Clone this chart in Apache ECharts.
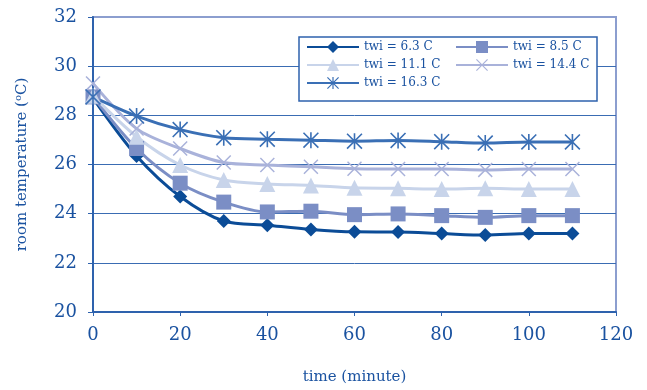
<!DOCTYPE html>
<html>
<head>
<meta charset="utf-8">
<script src="https://cdn.jsdelivr.net/npm/echarts@6/dist/echarts.min.js"></script>
<style>
  html, body { margin: 0; padding: 0; background: #fff; }
  #chart { width: 647px; height: 390px; }
</style>
</head>
<body>
<div id="chart"></div>
<script>
// time in minutes
var times = [0, 10, 20, 30, 40, 50, 60, 70, 80, 90, 100, 110]
var seriesNames = ['twi = 6.3 C', 'twi = 8.5 C', 'twi = 11.1 C', 'twi = 14.4 C', 'twi = 16.3 C']
// room temperature
var twi63 = [28.7, 26.35, 24.7, 23.7, 23.53, 23.36, 23.26, 23.25, 23.19, 23.13, 23.19, 23.19]
var twi85 = [28.75, 26.65, 25.24, 24.47, 24.07, 24.1, 23.96, 23.99, 23.92, 23.85, 23.92, 23.92]
var twi111 = [28.8, 27.13, 25.98, 25.37, 25.21, 25.15, 25.05, 25.03, 25.0, 25.03, 25.0, 25.0]
var twi144 = [29.3, 27.46, 26.65, 26.08, 25.98, 25.91, 25.83, 25.82, 25.82, 25.78, 25.82, 25.82]
var twi163 = [28.75, 27.97, 27.42, 27.09, 27.03, 26.99, 26.95, 26.98, 26.93, 26.87, 26.92, 26.92]

var fontFam = 'DejaVu Serif'
var textColor = '#1a52a0'
var axisColor = '#2e62ad'

var starPath = 'path://M45 0 L55 0 L55 100 L45 100 Z M7 0 L100 93 L93 100 L0 7 Z M93 0 L100 7 L7 100 L0 93 Z'
var crossPath = 'path://M7 0 L100 93 L93 100 L0 7 Z M93 0 L100 7 L7 100 L0 93 Z'

function pairs(vals) {
  return times.map(function (t, i) { return [t, vals[i]] })
}

function makeSeries(name, vals, color, symbol, size) {
  return {
    name: name,
    type: 'line',
    smooth: 0.3,
    data: pairs(vals),
    symbol: symbol,
    symbolSize: size,
    lineStyle: { color: color, width: 3 },
    itemStyle: { color: color },
    animation: false
  }
}

var legendText = { fontFamily: fontFam, fontSize: 12, color: textColor }

var myChart = echarts.init(document.getElementById('chart'))
var option = {
  backgroundColor: '#fff',
  grid: {
    left: 93, right: 31, top: 17, bottom: 77,
    show: true,
    borderColor: '#8c9ecf',
    borderWidth: 2
  },
  graphic: [{
    type: 'rect',
    z: 3,
    shape: { x: 299, y: 37, width: 298, height: 64 },
    style: { fill: '#fff', stroke: axisColor, lineWidth: 1.5 }
  }],
  legend: [{
    orient: 'vertical',
    left: 306, top: 41,
    padding: 0,
    itemWidth: 52, itemHeight: 15, itemGap: 6,
    z: 5,
    data: [seriesNames[0], seriesNames[2], seriesNames[4]],
    textStyle: legendText
  }, {
    orient: 'vertical',
    left: 455, top: 41,
    padding: 0,
    itemWidth: 52, itemHeight: 15, itemGap: 6,
    z: 5,
    data: [seriesNames[1], seriesNames[3]],
    textStyle: legendText
  }],
  xAxis: {
    type: 'value',
    min: 0, max: 120, interval: 20,
    name: 'time (minute)',
    nameLocation: 'middle',
    nameGap: 58,
    nameTextStyle: { fontFamily: fontFam, fontSize: 15, color: textColor },
    axisLine: { show: true, lineStyle: { color: axisColor, width: 2 } },
    axisTick: { show: true, length: 4, lineStyle: { color: axisColor } },
    axisLabel: { fontFamily: fontFam, fontSize: 18, color: textColor, margin: 14 },
    splitLine: { show: false }
  },
  yAxis: {
    type: 'value',
    min: 20, max: 32, interval: 2,
    name: 'room temperature ({sup|o}C)',
    nameLocation: 'middle',
    nameGap: 62,
    nameTextStyle: {
      fontFamily: fontFam, fontSize: 15, color: textColor,
      rich: {
        sup: { fontFamily: fontFam, fontSize: 10, color: textColor, padding: [0, 0, 8, 0] }
      }
    },
    axisLine: { show: true, lineStyle: { color: axisColor, width: 2 } },
    axisTick: { show: true, length: 5, lineStyle: { color: axisColor } },
    axisLabel: { fontFamily: fontFam, fontSize: 18, color: textColor, margin: 16 },
    splitLine: { show: true, showMaxLine: false, lineStyle: { color: '#3a6cb3', width: 1 } }
  },
  series: [
    makeSeries(seriesNames[0], twi63, '#0b4c97', 'diamond', 14),
    makeSeries(seriesNames[1], twi85, '#7b8ec5', 'rect', 15),
    makeSeries(seriesNames[2], twi111, '#c8d4ea', 'triangle', 16),
    makeSeries(seriesNames[3], twi144, '#a9b2da', crossPath, 15),
    makeSeries(seriesNames[4], twi163, '#3a6fb5', starPath, 16)
  ]
}
myChart.setOption(option)
</script>
</body>
</html>
